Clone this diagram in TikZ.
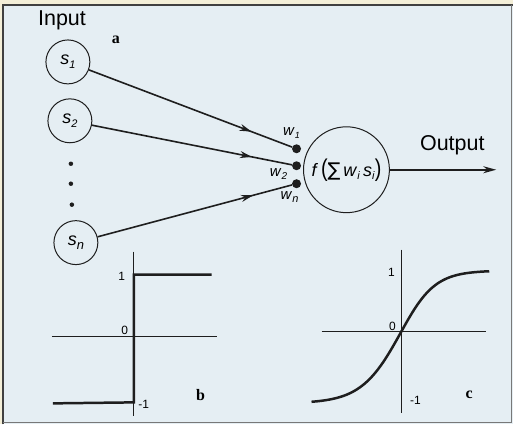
\documentclass[tikz,border=0pt]{standalone}
\usepackage{fontspec}
\usepackage{graphicx}
\setmainfont{Liberation Sans}
\newfontfamily\dejavu{DejaVu Sans}
\newfontfamily\serifb{Liberation Serif}
\usetikzlibrary{arrows.meta,decorations.markings}
\definecolor{bg}{HTML}{E5EEF3}
\definecolor{cream}{HTML}{F4EFD8}
\definecolor{ink}{HTML}{1E1E1E}
\newcommand{\sv}[3]{\textit{#1}\raisebox{-0.4ex}{\fontsize{#3}{#3}\selectfont\textit{#2}}}
\tikzset{
  inp/.style={circle, draw=ink, line width=1pt, minimum size=44pt, inner sep=0pt, font=\fontsize{18}{18}\selectfont},
  neuron/.style={circle, draw=ink, line width=1pt, minimum size=86pt, inner sep=0pt, font=\fontsize{18}{18}\selectfont},
  wdot/.style={circle, fill=ink, minimum size=9pt, inner sep=0pt},
  sdot/.style={circle, fill=ink, minimum size=4.5pt, inner sep=0pt},
  wlab/.style={font=\fontsize{15}{15}\selectfont, inner sep=0pt},
  big/.style={font=\fontsize{21.5}{21.5}\selectfont, inner sep=0pt},
  tag/.style={font=\fontsize{16}{16}\serifb\bfseries, inner sep=0pt},
  num/.style={font=\fontsize{12}{12}\selectfont, inner sep=0pt},
  conn/.style={ink, line width=1.6pt, postaction={decorate},
    decoration={markings, mark=at position 0.8 with {\arrow{Stealth[length=12pt,width=7pt]}}}},
  axis/.style={ink, line width=0.9pt},
  curve/.style={ink, line width=2.5pt},
}
\begin{document}
\begin{tikzpicture}[x=1pt,y=-1pt]
\fill[cream] (0,0) rectangle (514,425);
\fill[bg] (3,5) rectangle (514,425);
\draw[ink!85, line width=1.6pt] (3,425) -- (3,5) -- (514,5);
\draw[ink!60, line width=0.8pt] (512,5) -- (512,423) -- (3,423);
\useasboundingbox (0,0) rectangle (514,425);

% panel a
\node[big, anchor=west] (input) at (38,20) {Input};
\node[tag] (ta) at (116,40) {a};
\node[inp] (s1) at (68,62) {\sv{s}{1}{11}};
\node[inp] (s2) at (70,121) {\sv{s}{2}{11}};
\node[inp] (sn) at (76,243) {\sv{s}{n}{13}};
\node[sdot] (d1) at (71,164) {};
\node[sdot] (d2) at (71,184) {};
\node[sdot] (d3) at (72,205) {};
\node[wdot] (w1) at (297,149) {};
\node[wdot] (w2) at (297,166) {};
\node[wdot] (wn) at (297,184) {};
\node[wlab] (lw1) at (292,133) {\sv{w}{1}{9}};
\node[wlab] (lw2) at (279,174) {\sv{w}{2}{10}};
\node[wlab] (lwn) at (290,197) {\sv{w}{n}{11}};
\node[neuron] (f) at (347,170) {\textit{f}\,\scalebox{1.1}[1.35]{(}{\dejavu\fontsize{19}{19}\selectfont ∑}\,\sv{w}{i}{11}\,\sv{s}{i}{11}\scalebox{1.1}[1.35]{)}};
\node[big] (output) at (453,145) {Output};
\coordinate (out) at (497,170);
\draw[conn] (s1) -- (w1);
\draw[conn] (s2) -- (w2);
\draw[conn] (sn) -- (wn);
\draw[ink, line width=1.6pt, -{Stealth[length=13pt,width=7pt]}] (f) -- (out);

% panel b
\coordinate (bxl) at (52,337);
\coordinate (bxr) at (217,337);
\coordinate (byt) at (134,252);
\coordinate (byb) at (134,417);
\draw[axis] (bxl) -- (bxr);
\draw[axis] (byt) -- (byb);
\draw[curve] (53,404) -- (134,403) -- (134,275) -- (212,275);
\node[num] (b1) at (122,277) {1};
\node[num] (b0) at (125,331) {0};
\node[num] (bm1) at (144,405) {-1};
\node[tag] (tb) at (201,396) {b};

% panel c
\coordinate (cxl) at (322,332);
\coordinate (cxr) at (487,332);
\coordinate (cyt) at (402,250);
\coordinate (cyb) at (402,414);
\draw[axis] (cxl) -- (cxr);
\draw[axis] (cyt) -- (cyb);
\draw[curve] plot[domain=-90:0, samples=40] ({402+\x},{332-72*tanh(\x/40)})
  -- plot[domain=0:88, samples=40] ({402+\x},{332-61*tanh(\x/34)});
\node[num] (c1) at (392,273) {1};
\node[num] (c0) at (393,327) {0};
\node[num] (cm1) at (416,401) {-1};
\node[tag] (tc) at (470,395) {c};
\end{tikzpicture}
\end{document}
